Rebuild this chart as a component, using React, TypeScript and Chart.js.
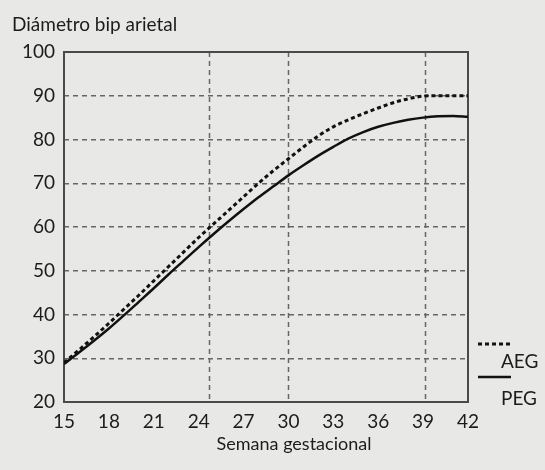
import React, { useEffect, useRef } from 'react';
import { Chart, registerables } from 'chart.js';

Chart.register(...registerables);

const weeks = [15, 16, 17, 18, 19, 20, 21, 22, 23, 24, 25, 26, 27, 28, 29, 30, 31, 32, 33, 34, 35, 36, 37, 38, 39, 40, 41, 42];
const aegValues = [29.0, 31.9, 34.9, 38.0, 41.2, 44.4, 47.7, 51.0, 54.3, 57.6, 60.7, 63.8, 66.9, 70.0, 72.9, 75.6, 78.3, 80.8, 82.9, 84.5, 85.9, 87.2, 88.4, 89.3, 89.9, 90.0, 90.0, 90.0];
const pegValues = [28.7, 31.3, 34.0, 36.8, 39.8, 42.9, 46.0, 49.2, 52.3, 55.4, 58.4, 61.3, 64.1, 66.8, 69.3, 71.8, 74.1, 76.3, 78.3, 80.2, 81.7, 82.9, 83.8, 84.5, 85.0, 85.3, 85.4, 85.2];
const xTickValues = [15, 18, 21, 24, 27, 30, 33, 36, 39, 42];
const yTickValues = [20, 30, 40, 50, 60, 70, 80, 90, 100];
const verticalGridWeeks = [24.7, 30, 39.1];
const seriesNames = ['AEG', 'PEG'];
const yAxisTitle = 'Diámetro bip arietal';
const xAxisTitle = 'Semana gestacional';

const FONT = 'Lato, "Open Sans", sans-serif';
const BG = '#e8e8e6';
const INK = '#1c1c1c';
const GRID = '#666666';

export default function App() {
  const canvasRef = useRef<HTMLCanvasElement | null>(null);

  useEffect(() => {
    const canvas = canvasRef.current;
    if (!canvas) return;

    const decor = {
      id: 'decor',
      beforeDraw(chart: any) {
        const ctx = chart.ctx;
        ctx.save();
        ctx.fillStyle = BG;
        ctx.fillRect(0, 0, chart.width, chart.height);
        ctx.restore();
      },
      beforeDatasetsDraw(chart: any) {
        const ctx = chart.ctx;
        const area = chart.chartArea;
        const xs = chart.scales.x;
        ctx.save();
        ctx.strokeStyle = GRID;
        ctx.lineWidth = 1.5;
        ctx.setLineDash([5, 4]);
        verticalGridWeeks.forEach((w) => {
          const px = Math.round(xs.getPixelForValue(w)) + 0.5;
          ctx.beginPath();
          ctx.moveTo(px, area.top);
          ctx.lineTo(px, area.bottom);
          ctx.stroke();
        });
        ctx.setLineDash([]);
        ctx.strokeStyle = '#4a4a4a';
        ctx.lineWidth = 2;
        ctx.strokeRect(area.left, area.top, area.right - area.left, area.bottom - area.top);
        ctx.restore();
      },
      afterDraw(chart: any) {
        const ctx = chart.ctx;
        ctx.save();
        ctx.fillStyle = INK;
        ctx.font = `19px ${FONT}`;
        ctx.textBaseline = 'alphabetic';
        ctx.textAlign = 'left';
        ctx.fillText(yAxisTitle, 12, 31);
        ctx.textAlign = 'center';
        ctx.font = `18px ${FONT}`;
        ctx.fillText(xAxisTitle, 294, 450);

        // legend
        const ds = chart.data.datasets;
        ctx.strokeStyle = '#111';
        ctx.lineWidth = ds[0].borderWidth;
        ctx.setLineDash(ds[0].borderDash);
        ctx.beginPath();
        ctx.moveTo(478, 344);
        ctx.lineTo(511, 344);
        ctx.stroke();
        ctx.setLineDash([]);
        ctx.lineWidth = ds[1].borderWidth;
        ctx.beginPath();
        ctx.moveTo(478, 377);
        ctx.lineTo(511, 377);
        ctx.stroke();
        ctx.textAlign = 'left';
        ctx.font = `19px ${FONT}`;
        ctx.fillText(ds[0].label, 501, 368);
        ctx.fillText(ds[1].label, 501, 405);
        ctx.restore();
      },
    };

    const chart = new Chart(canvas, {
      type: 'line',
      data: {
        datasets: [
          {
            label: seriesNames[0],
            data: weeks.map((w, i) => ({ x: w, y: aegValues[i] })),
            borderColor: '#111',
            borderWidth: 3,
            borderDash: [4, 3],
            pointRadius: 0,
            fill: false,
            cubicInterpolationMode: 'monotone',
          },
          {
            label: seriesNames[1],
            data: weeks.map((w, i) => ({ x: w, y: pegValues[i] })),
            borderColor: '#111',
            borderWidth: 2.5,
            borderDash: [],
            pointRadius: 0,
            fill: false,
            cubicInterpolationMode: 'monotone',
          },
        ],
      },
      options: {
        animation: false,
        responsive: false,
        maintainAspectRatio: false,
        devicePixelRatio: 1,
        layout: { padding: { top: 52, right: 77, left: 0, bottom: 0 } },
        plugins: {
          legend: { display: false },
          tooltip: { enabled: false },
          title: { display: false },
        },
        scales: {
          x: {
            type: 'linear',
            min: 15,
            max: 42,
            afterBuildTicks: (scale: any) => {
              scale.ticks = xTickValues.map((v) => ({ value: v }));
            },
            afterFit: (scale: any) => {
              scale.height = 68;
            },
            grid: { display: false },
            border: { display: false },
            ticks: {
              color: INK,
              font: { family: FONT, size: 19 },
              padding: 0,
              maxRotation: 0,
              autoSkip: false,
              callback: (v: any) => String(v),
            },
          },
          y: {
            type: 'linear',
            min: 20,
            max: 100,
            afterBuildTicks: (scale: any) => {
              scale.ticks = yTickValues.map((v) => ({ value: v }));
            },
            afterFit: (scale: any) => {
              scale.width = 64;
            },
            grid: { color: GRID, lineWidth: 1.5, drawTicks: false },
            border: { display: false, dash: [5, 4] },
            ticks: {
              color: INK,
              font: { family: FONT, size: 19 },
              padding: 9,
              autoSkip: false,
              callback: (v: any) => String(v),
            },
          },
        },
      },
      plugins: [decor],
    } as any);

    return () => {
      chart.destroy();
    };
  }, []);

  return (
    <div style={{ position: 'fixed', left: 0, top: 0, width: 545, height: 470, background: BG }}>
      <canvas ref={canvasRef} width={545} height={470} style={{ display: 'block', width: 545, height: 470 }} />
    </div>
  );
}
